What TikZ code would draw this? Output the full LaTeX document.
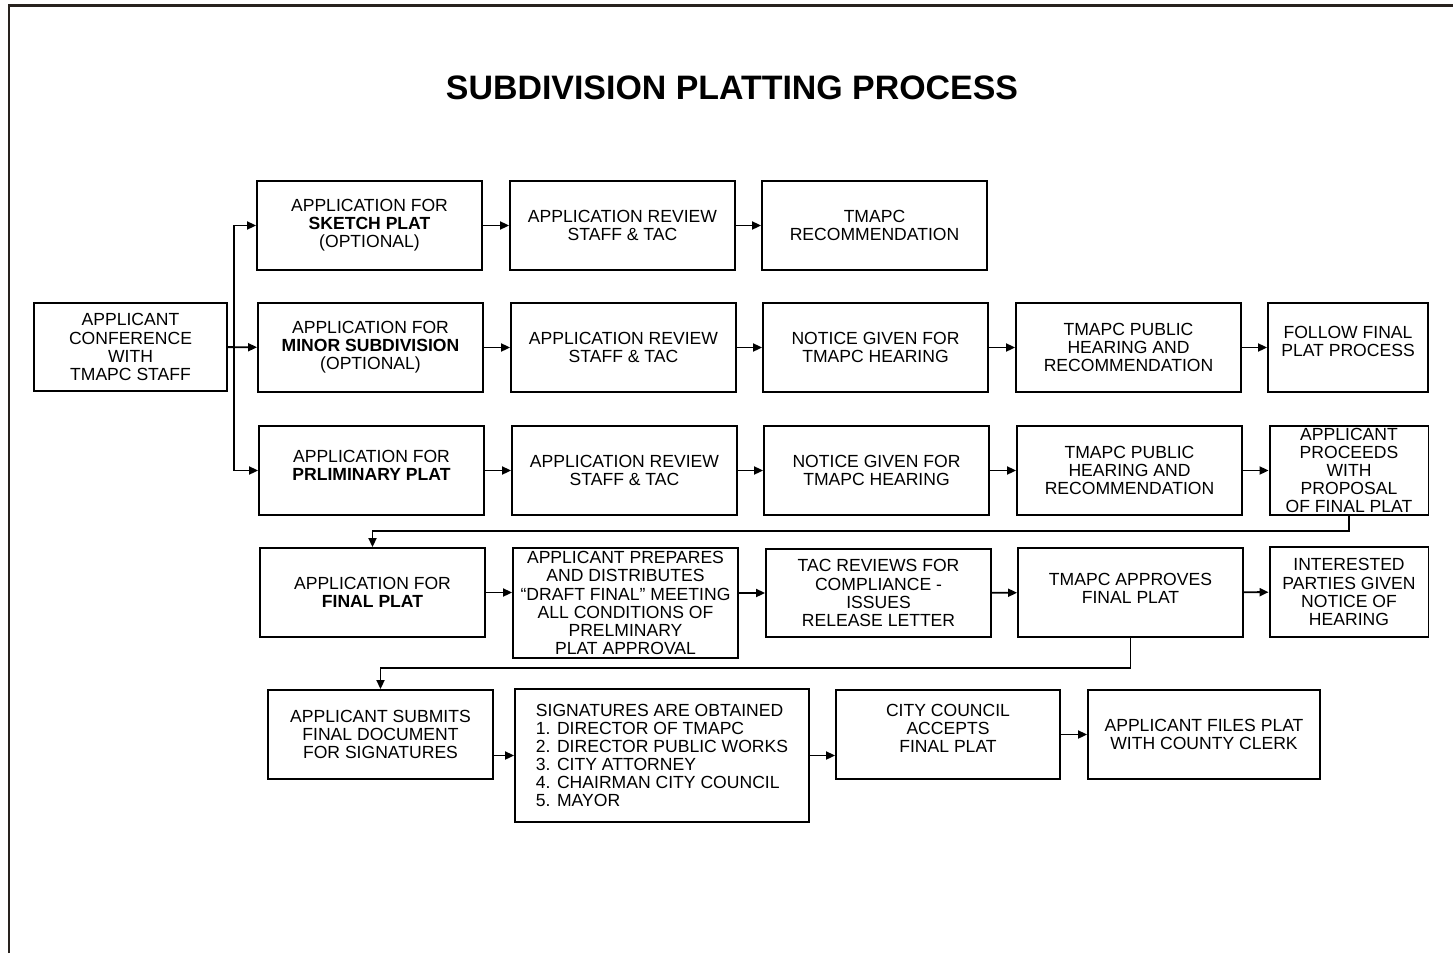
\documentclass[tikz,border=0pt]{standalone}
\usepackage{fontspec}
\setmainfont{Liberation Sans}
\usetikzlibrary{arrows.meta,positioning}
\definecolor{framecol}{RGB}{40,34,30}

\begin{document}
\begin{tikzpicture}[x=0.02cm,y=-0.02cm,
        box/.style={draw, line width=1.1pt, inner sep=0pt, align=center,
            font=\fontsize{10}{10.3}\selectfont, minimum width=4.5cm, minimum height=1.78cm},
        narrow/.style={box, minimum width=3.18cm},
        arr/.style={line width=1.1pt, -{Triangle[length=1.8mm,width=1.6mm]}}]
        \useasboundingbox (0,0) rectangle (1453,953);
        \draw[line width=0.06cm, framecol] (9,953) -- (9,6) -- (1453,6);
        \node[font=\bfseries\fontsize{19.3}{22}\selectfont] (title) at (732,88) {SUBDIVISION PLATTING PROCESS};
        % first three rows
        \node[box, minimum width=3.86cm, minimum height=1.76cm] (conf) at (130.5,347) {APPLICANT\\CONFERENCE\\WITH\\TMAPC STAFF};
        \node[box] (sketch) at (369.5,225.5) {APPLICATION FOR\\\textbf{SKETCH PLAT}\\(OPTIONAL)};
        \node[box] (rev1) at (622.5,225.5) {APPLICATION REVIEW\\STAFF \& TAC};
        \node[box] (rec1) at (874.5,225.5) {TMAPC\\RECOMMENDATION};
        \node[box] (minor) at (370.5,347.5) {APPLICATION FOR\\\textbf{MINOR SUBDIVISION}\\(OPTIONAL)};
        \node[box] (rev2) at (623.5,347.5) {APPLICATION REVIEW\\STAFF \& TAC};
        \node[box] (notice2) at (875.5,347.5) {NOTICE GIVEN FOR\\TMAPC HEARING};
        \node[box] (hear2) at (1128.5,347.5) {TMAPC PUBLIC\\HEARING AND\\RECOMMENDATION};
        \node[narrow, minimum width=3.2cm] (follow) at (1348,347.5) {FOLLOW FINAL\\PLAT PROCESS\\[-3.5pt]};
        \node[box] (prelim) at (371.5,470.5) {APPLICATION FOR\\\textbf{PRLIMINARY PLAT}\\[-4pt]};
        \node[box] (rev3) at (624.5,470.5) {APPLICATION REVIEW\\STAFF \& TAC};
        \node[box] (notice3) at (876.5,470.5) {NOTICE GIVEN FOR\\TMAPC HEARING};
        \node[box] (hear3) at (1129.5,470.5) {TMAPC PUBLIC\\HEARING AND\\RECOMMENDATION};
        \node[narrow] (proceeds) at (1349,470.5) {APPLICANT\\PROCEEDS\\WITH\\PROPOSAL\\OF FINAL PLAT};
        % fourth row
        \node[box] (final) at (372.5,592.5) {APPLICATION FOR\\\textbf{FINAL PLAT}};
        \node[box, minimum height=2.2cm] (prepares) at (625.5,603) {APPLICANT PREPARES\\AND DISTRIBUTES\\“DRAFT FINAL” MEETING\\ALL CONDITIONS OF\\PRELMINARY\\PLAT APPROVAL};
        \node[box, minimum height=1.76cm] (tacrev) at (878.5,593) {TAC REVIEWS FOR\\COMPLIANCE -\\ISSUES\\RELEASE LETTER};
        \node[box] (approves) at (1130.5,592.5) {TMAPC APPROVES\\FINAL PLAT\\[-6pt]};
        \node[narrow, minimum height=1.8cm] (interested) at (1349,592) {INTERESTED\\PARTIES GIVEN\\NOTICE OF\\HEARING};
        % last row
        \node[box] (submits) at (380.5,734.5) {APPLICANT SUBMITS\\FINAL DOCUMENT\\FOR SIGNATURES};
        \node[box, align=left, minimum width=5.88cm, minimum height=2.66cm] (sig) at (662,755.5) {SIGNATURES ARE OBTAINED\\1. DIRECTOR OF TMAPC\\2. DIRECTOR PUBLIC WORKS\\3. CITY ATTORNEY\\4. CHAIRMAN CITY COUNCIL\\5. MAYOR};
        \node[box, minimum width=4.48cm] (council) at (948,734.5) {CITY COUNCIL\\ACCEPTS\\FINAL PLAT\\[-3pt]};
        \node[box, minimum width=4.64cm] (files) at (1204,734.5) {APPLICANT FILES PLAT\\WITH COUNTY CLERK};
        \coordinate (fork) at (234,347);
        \draw[arr] (conf) -- (minor);
        \draw[arr] (fork) |- (sketch.west);
        \draw[arr] (fork) |- (prelim.west);
        \draw[arr] (sketch) -- (rev1);
        \draw[arr] (rev1) -- (rec1);
        \draw[arr] (minor) -- (rev2);
        \draw[arr] (rev2) -- (notice2);
        \draw[arr] (notice2) -- (hear2);
        \draw[arr] (hear2) -- (follow);
        \draw[arr] (prelim) -- (rev3);
        \draw[arr] (rev3) -- (notice3);
        \draw[arr] (notice3) -- (hear3);
        \draw[arr] (hear3) -- (proceeds);
        \draw[arr] (proceeds.south) -- ++(0,15) -| (final.north);
        \draw[arr] (final.east) -- (final.east -| prepares.west);
        \draw[arr] (prepares.east |- tacrev.west) -- (tacrev.west);
        \draw[arr] (tacrev) -- (approves);
        \draw[arr] (approves) -- (interested);
        \draw[arr] (approves.south) -- ++(0,30) -| (submits.north);
        \draw[arr] (submits.east |- sig.west) -- (sig.west);
        \draw[arr] (sig.east) -- (sig.east -| council.west);
        \draw[arr] (council) -- (files);
    \end{tikzpicture}
\end{document}
